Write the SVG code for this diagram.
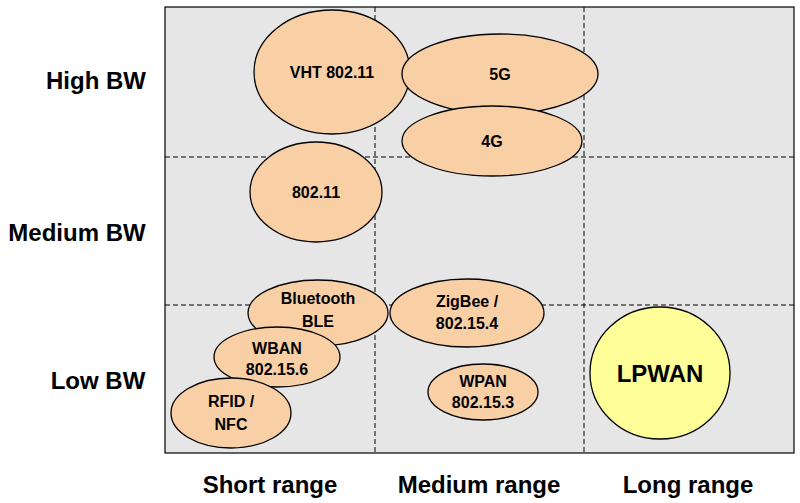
<svg xmlns="http://www.w3.org/2000/svg" width="800" height="503" viewBox="0 0 800 503">
<style>
.ax{font-family:"Liberation Sans",Arial,sans-serif;font-weight:bold;font-size:24px;fill:#000;text-anchor:middle}
.n{fill:#f9d0a6;stroke:#000;stroke-width:1.3}
.t{font-family:"Liberation Sans",Arial,sans-serif;font-weight:bold;font-size:16px;fill:#000;text-anchor:middle}
.g{stroke:#000;stroke-width:1;stroke-dasharray:5,3;fill:none}
</style>
<rect x="0" y="0" width="800" height="503" fill="#fff"/>
<rect x="165" y="7" width="629" height="446" fill="#e6e6e6" stroke="#000" stroke-width="1.2"/>
<g id="connectors">
<line class="g" x1="375" y1="7" x2="375" y2="453"/>
<line class="g" x1="584" y1="7" x2="584" y2="453"/>
<line class="g" x1="165" y1="157" x2="794" y2="157"/>
<line class="g" x1="165" y1="305" x2="794" y2="305"/>
</g>
<text class="ax" x="96" y="89">High BW</text>
<text class="ax" x="77" y="241">Medium BW</text>
<text class="ax" x="98" y="389">Low BW</text>
<text class="ax" x="270" y="493">Short range</text>
<text class="ax" x="479" y="493">Medium range</text>
<text class="ax" x="688" y="493">Long range</text>
<g id="vht"><ellipse class="n" cx="332" cy="72" rx="78" ry="62"/><text class="t" x="332" y="78">VHT 802.11</text></g>
<g id="g5"><ellipse class="n" cx="500" cy="74" rx="98" ry="40"/><text class="t" x="500" y="80">5G</text></g>
<g id="g4"><ellipse class="n" cx="492" cy="141" rx="90" ry="35"/><text class="t" x="492" y="147">4G</text></g>
<g id="wifi"><ellipse class="n" cx="316" cy="192" rx="66" ry="50"/><text class="t" x="316" y="198">802.11</text></g>
<g id="ble"><ellipse class="n" cx="318" cy="313" rx="70" ry="33"/><text class="t" x="318" y="304">Bluetooth</text><text class="t" x="318" y="327">BLE</text></g>
<g id="zigbee"><ellipse class="n" cx="467" cy="313" rx="77" ry="34"/><text class="t" x="467" y="307">ZigBee /</text><text class="t" x="467" y="329">802.15.4</text></g>
<g id="wban"><ellipse class="n" cx="277" cy="357" rx="63" ry="30"/><text class="t" x="277" y="354">WBAN</text><text class="t" x="277" y="375">802.15.6</text></g>
<g id="wpan"><ellipse class="n" cx="483" cy="392" rx="55" ry="28"/><text class="t" x="483" y="387">WPAN</text><text class="t" x="483" y="408">802.15.3</text></g>
<g id="rfid"><ellipse class="n" cx="231" cy="413" rx="60" ry="35"/><text class="t" x="231" y="407">RFID /</text><text class="t" x="231" y="430">NFC</text></g>
<g id="lpwan"><ellipse cx="660" cy="373" rx="70" ry="66" fill="#ffff99" stroke="#000" stroke-width="1.3"/><text class="t" style="font-size:24px" x="660" y="382">LPWAN</text></g>
</svg>
